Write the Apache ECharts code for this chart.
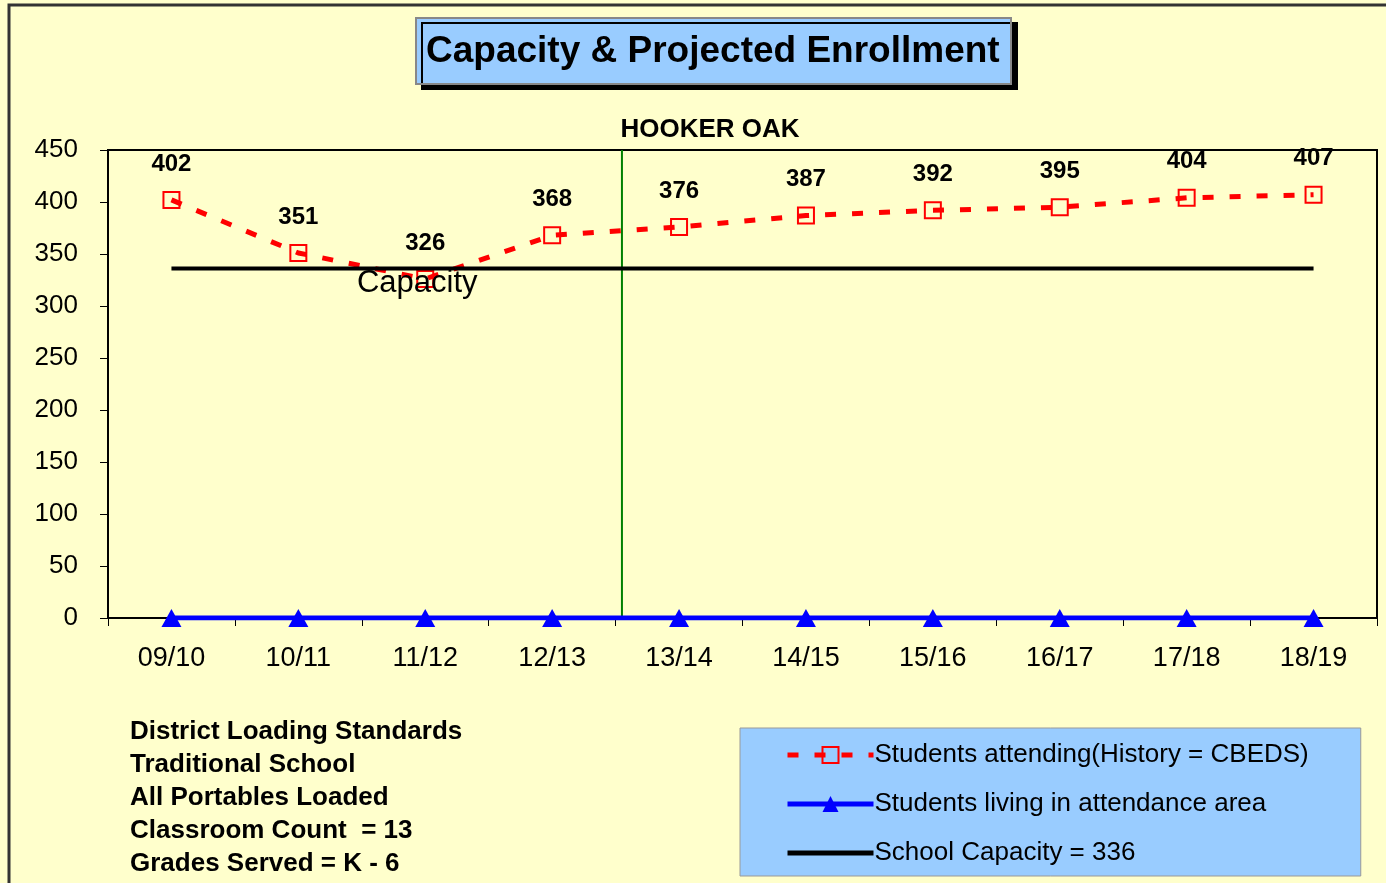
<!DOCTYPE html>
<html>
<head>
<meta charset="utf-8">
<script src="https://cdn.jsdelivr.net/npm/echarts@6/dist/echarts.min.js"></script>
<style>
  html, body { margin: 0; padding: 0; background: #FFFFCC; }
  #chart { width: 1386px; height: 883px; }
</style>
</head>
<body>
<div id="chart"></div>
<script>
// school years on the x axis
const years = ['09/10', '10/11', '11/12', '12/13', '13/14', '14/15', '15/16', '16/17', '17/18', '18/19'];
// enrollment
const attending = [402, 351, 326, 368, 376, 387, 392, 395, 404, 407];
const livingInArea = [0, 0, 0, 0, 0, 0, 0, 0, 0, 0];
const capacity = [336, 336, 336, 336, 336, 336, 336, 336, 336, 336];
// history / projection divider (position on a 0..10 band scale)
const dividerAt = 4.05;

const notes = [
  'District Loading Standards',
  'Traditional School',
  'All Portables Loaded',
  'Classroom Count  = 13',
  'Grades Served = K - 6'
];

const font = '"Liberation Sans", Arial, sans-serif';

const chart = echarts.init(document.getElementById('chart'));

const option = {
  backgroundColor: '#FFFFCC',
  animation: false,
  textStyle: { fontFamily: font, color: '#000' },
  title: [
    {
      text: 'Capacity & Projected Enrollment',
      left: 416,
      top: 18,
      padding: [15, 12, 14, 10],
      backgroundColor: '#99CCFF',
      borderColor: '#888',
      borderWidth: 2,
      shadowColor: '#000',
      shadowBlur: 0,
      shadowOffsetX: 6,
      shadowOffsetY: 5,
      textStyle: { fontFamily: font, fontSize: 37, fontWeight: 'bold', color: '#000' }
    },
    {
      text: 'HOOKER OAK',
      left: 710,
      textAlign: 'center',
      top: 117,
      padding: 0,
      textStyle: { fontFamily: font, fontSize: 26, fontWeight: 'bold', color: '#000' }
    },
    {
      text: notes.join('\n'),
      left: 130,
      top: 715,
      padding: 0,
      textStyle: { fontFamily: font, fontSize: 26, fontWeight: 'bold', color: '#000', lineHeight: 33 }
    }
  ],
  legend: {
    orient: 'vertical',
    left: 740,
    top: 728,
    padding: [14, 52, 10, 45],
    backgroundColor: '#99CCFF',
    borderColor: '#999',
    borderWidth: 1,
    itemWidth: 86,
    itemHeight: 20,
    itemGap: 23,
    lineStyle: { width: 5 },
    textStyle: { fontFamily: font, fontSize: 26, color: '#000', padding: [0, 0, 0, -4] },
    data: [
      { name: 'Students attending(History = CBEDS)' },
      { name: 'Students living in attendance area' },
      { name: 'School Capacity = 336', itemStyle: { opacity: 0 } }
    ]
  },
  graphic: [
    {
      type: 'rect',
      silent: true,
      shape: { x: 9, y: 5, width: 1400, height: 900 },
      style: { fill: 'none', stroke: '#333', lineWidth: 3 }
    }
  ],
  grid: {
    left: 108,
    right: 9,
    top: 150,
    bottom: 265,
    show: true,
    borderColor: '#000',
    borderWidth: 2,
    backgroundColor: 'transparent'
  },
  xAxis: [
    {
      type: 'category',
      data: years,
      boundaryGap: true,
      axisLine: { lineStyle: { color: '#000', width: 2 } },
      axisTick: { show: true, length: 8, lineStyle: { color: '#000', width: 1 } },
      axisLabel: { fontFamily: font, fontSize: 27, color: '#000', margin: 27 },
      splitLine: { show: false }
    },
    {
      type: 'value',
      min: 0,
      max: 10,
      show: false
    }
  ],
  yAxis: {
    type: 'value',
    min: 0,
    max: 450,
    interval: 50,
    axisLine: { show: true, lineStyle: { color: '#000', width: 2 } },
    axisTick: { show: true, length: 8, lineStyle: { color: '#000' } },
    axisLabel: { fontFamily: font, fontSize: 26, color: '#000', margin: 30 },
    splitLine: { show: false }
  },
  series: [
    {
      name: 'Students attending(History = CBEDS)',
      type: 'line',
      data: attending,
      symbol: 'rect',
      symbolSize: 16,
      itemStyle: { color: 'rgba(0,0,0,0)', borderColor: '#FF0000', borderWidth: 2 },
      lineStyle: { color: '#FF0000', width: 5, type: [11, 16] },
      label: {
        show: true,
        position: 'top',
        distance: 15,
        fontFamily: font,
        fontSize: 24,
        fontWeight: 'bold',
        color: '#000'
      },
      z: 3
    },
    {
      name: 'Students living in attendance area',
      type: 'line',
      data: livingInArea,
      symbol: 'triangle',
      symbolSize: [20, 18],
      itemStyle: { color: '#0000FF' },
      lineStyle: { color: '#0000FF', width: 5 },
      z: 4
    },
    {
      name: 'School Capacity = 336',
      type: 'line',
      data: capacity,
      symbol: 'none',
      itemStyle: { color: '#000' },
      lineStyle: { color: '#000', width: 4 },
      markPoint: {
        symbol: 'rect',
        symbolSize: 1,
        itemStyle: { color: 'rgba(0,0,0,0)' },
        label: {
          show: true,
          position: 'bottom',
          distance: 0,
          offset: [-8, -1],
          fontFamily: font,
          fontSize: 31,
          color: '#000',
          formatter: 'Capacity'
        },
        data: [{ coord: [years[2], capacity[2]] }]
      },
      z: 5
    },
    {
      name: 'divider',
      type: 'line',
      xAxisIndex: 1,
      data: [[dividerAt, 0], [dividerAt, 450]],
      symbol: 'none',
      lineStyle: { color: '#008000', width: 2 },
      silent: true,
      z: 2
    }
  ]
};

chart.setOption(option);
</script>
</body>
</html>
